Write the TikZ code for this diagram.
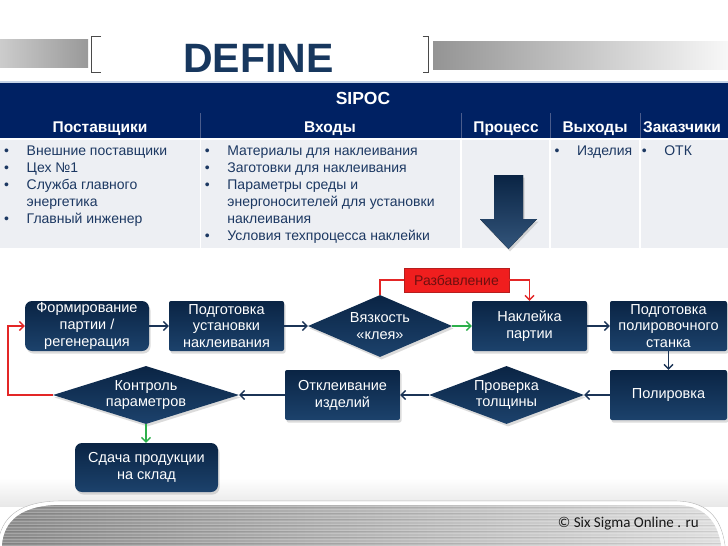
\documentclass[tikz,border=0pt]{standalone}
\usepackage{fontspec}
\setmainfont{Liberation Sans}
\newfontfamily\calibfont{Carlito}
\usetikzlibrary{shapes.geometric,arrows.meta,shadows}
\definecolor{navyband}{HTML}{002163}
\definecolor{boxtop}{HTML}{0A2444}
\definecolor{boxbot}{HTML}{1C426C}
\definecolor{lnk}{HTML}{1B3456}
\definecolor{grnln}{HTML}{2DB04B}
\definecolor{redln}{HTML}{E32626}
\definecolor{redfill}{HTML}{F01E1E}
\definecolor{redtxt}{HTML}{6E1010}
\definecolor{deftxt}{HTML}{17375E}
\definecolor{bodyclr}{HTML}{1C3862}
\definecolor{tblbg}{HTML}{EDEFF3}
\definecolor{sepln}{HTML}{4A5C8C}
\definecolor{brk}{HTML}{4A4A4A}
\definecolor{topline}{HTML}{C6D4E8}
\newlength{\bulw}\setlength{\bulw}{22.5pt}
\newcommand{\bitem}{\makebox[\bulw][l]{•}}
\newcommand{\bcont}{\hspace*{\bulw}}
\begin{document}
\begin{tikzpicture}[x=1pt,y=-1pt,
  flowbox/.style={top color=boxtop,bottom color=boxbot,text=white,font=\fontsize{14.5}{16.8}\selectfont,align=center,inner sep=1pt,minimum height=50pt,drop shadow={shadow xshift=1.5pt,shadow yshift=-2.5pt,opacity=0.28}},
  rbox/.style={flowbox,rounded corners=7pt},
  sbox/.style={flowbox,rounded corners=2pt},
  dia/.style={flowbox,shape=diamond,inner sep=0pt},
  redbox/.style={draw=redln!80!black,fill=redfill,text=redtxt,font=\fontsize{14}{16}\selectfont,minimum width=105pt,minimum height=24pt,inner sep=0pt},
  arrowtip/.style={-{Straight Barb[length=4.5pt,width=9pt]}},
  nav/.style={arrowtip,draw=lnk,line width=1.3pt},
  grn/.style={arrowtip,draw=grnln,line width=1.3pt},
  rdline/.style={draw=redln,line width=1.4pt},
  rda/.style={rdline,arrowtip},
  hdr/.style={text=white,font=\bfseries\fontsize{15.5}{18}\selectfont,anchor=base,inner sep=0pt},
  bodytxt/.style={font=\fontsize{14}{17}\selectfont,align=left,anchor=north west,inner sep=0pt,text=bodyclr},
  bracketln/.style={draw=brk,line width=1pt},
]
\useasboundingbox (0,0) rectangle (728,546);
\fill[white] (0,0) rectangle (728,546);

% title area
\fill[left color=black!20,right color=black!40] (0,39) rectangle (88,67);
\fill[left color=black!42,right color=black!3] (433,41) rectangle (728,69);
\draw[bracketln] (101,36) -- (91.5,36) -- (91.5,72) -- (101,72);
\draw[bracketln] (422.5,36) -- (428,36) -- (428,72) -- (422.5,72);
\node[font=\bfseries\fontsize{41}{45}\selectfont,text=deftxt,anchor=base,inner sep=0pt] (def) at (258.5,72) {DEFINE};
\draw[topline,line width=1.5pt] (0,81.8) -- (728,81.8);

% SIPOC table
\fill[navyband] (0,83) rectangle (728,138);
\foreach \x in {200.5,461,550,640} \draw[sepln,line width=0.8pt] (\x,113) -- (\x,138);
\fill[tblbg] (0,140) rectangle (728,248);
\foreach \x in {200.5,461,550,640} \draw[white,line width=1.5pt] (\x,140) -- (\x,248);
\node[hdr,font=\bfseries\fontsize{17.5}{20}\selectfont] (sipoc) at (363,104.3) {SIPOC};
\node[hdr] (h1) at (100,132.5) {Поставщики};
\node[hdr] (h2) at (330,132.5) {Входы};
\node[hdr] (h3) at (506,132.5) {Процесс};
\node[hdr] (h4) at (595,132.5) {Выходы};
\node[hdr] (h5) at (682,132.5) {Заказчики};
\node[bodytxt] (c1) at (4,146) {\bitem Внешние поставщики\\ \bitem Цех №1\\ \bitem Служба главного\\ \bcont энергетика\\ \bitem Главный инженер};
\node[bodytxt] (c2) at (204.7,146) {\bitem Материалы для наклеивания\\ \bitem Заготовки для наклеивания\\ \bitem Параметры среды и\\ \bcont энергоносителей для установки\\ \bcont наклеивания\\ \bitem Условия техпроцесса наклейки};
\node[bodytxt] (c4) at (554.3,146) {\bitem Изделия};
\node[bodytxt] (c5) at (641.6,146) {\bitem ОТК};
\fill[top color=boxtop,bottom color=boxbot!90!white,drop shadow={shadow xshift=1.5pt,shadow yshift=-2.5pt,opacity=0.28}] (494,175) -- (523,175) -- (523,219) -- (537,219) -- (508.5,249) -- (480,219) -- (494,219) -- cycle;

% footer
\fill[top color=white,bottom color=black!9] (0,478) rectangle (728,506);
\begin{scope}
\clip (0,546) .. controls (2,518) and (22,503) .. (62,503) -- (674,503) .. controls (704,503) and (719,518) .. (723,546) -- cycle;
\fill[left color=black!45,right color=black!12] (0,500) rectangle (728,546);
\foreach \yy in {506,509,...,545} \draw[white,opacity=0.22,line width=0.8pt] (0,\yy) -- (728,\yy);
\foreach \yy in {507.5,513.5,...,545} \draw[black,opacity=0.08,line width=0.6pt] (0,\yy) -- (728,\yy);
\end{scope}
\draw[black!25,line width=0.6pt] (-2,546) .. controls (0,516) and (21,501) .. (62,501) -- (674,501) .. controls (706,501) and (721,516) .. (725,546);
\draw[white,line width=3.5pt] (0,546) .. controls (2,518) and (22,503) .. (62,503) -- (674,503) .. controls (704,503) and (719,518) .. (723,546);
\node[font=\calibfont\fontsize{15}{18}\selectfont,text=black!90,anchor=base east,inner sep=0pt] (copy) at (699,527) {© Six Sigma Online . ru};

% flowchart
\node[rbox,minimum width=124pt] (b1) at (87,326) {Формирование\\партии /\\регенерация};
\node[sbox,minimum width=115pt] (b2) at (226.5,326) {Подготовка\\установки\\наклеивания};
\node[dia,minimum width=144pt,minimum height=62pt,aspect=2.32] (d1) at (380,326) {Вязкость\\«клея»};
\node[sbox,minimum width=115pt] (b3) at (529.5,326) {Наклейка\\партии};
\node[sbox,minimum width=117pt] (b4) at (668.5,326) {Подготовка\\полировочного\\станка};
\node[sbox,minimum width=117pt] (b5) at (668.5,395) {Полировка};
\node[dia,minimum width=155pt,minimum height=58pt,aspect=2.67] (d3) at (506.5,395) {Проверка\\толщины};
\node[sbox,minimum width=115pt] (b6) at (342.5,395) {Отклеивание\\изделий};
\node[dia,minimum width=186pt,minimum height=58pt,aspect=3.2] (d2) at (146,395) {Контроль\\параметров};
\node[rbox,minimum width=143pt,minimum height=49pt] (b7) at (146.5,467.5) {Сдача продукции\\на склад};
\node[redbox] (rz) at (456.5,280) {Разбавление};
\coordinate (lp) at (8,395);

\draw[nav] (b1) -- (b2);
\draw[nav] (b2) -- (d1);
\draw[grn] (d1) -- (b3);
\draw[nav] (b3) -- (b4);
\draw[nav] (b4) -- (b5);
\draw[nav] (b5) -- (d3);
\draw[nav] (d3) -- (b6);
\draw[nav] (b6) -- (d2);
\draw[grn] (d2.south) -- (d2.south |- b7.north);
\draw[rdline] (d1.north) |- (rz.west);
\draw[rda] (rz.east) -| (b3.north);
\draw[rda] (d2.west) -- (lp) |- (b1.west);
\end{tikzpicture}
\end{document}
